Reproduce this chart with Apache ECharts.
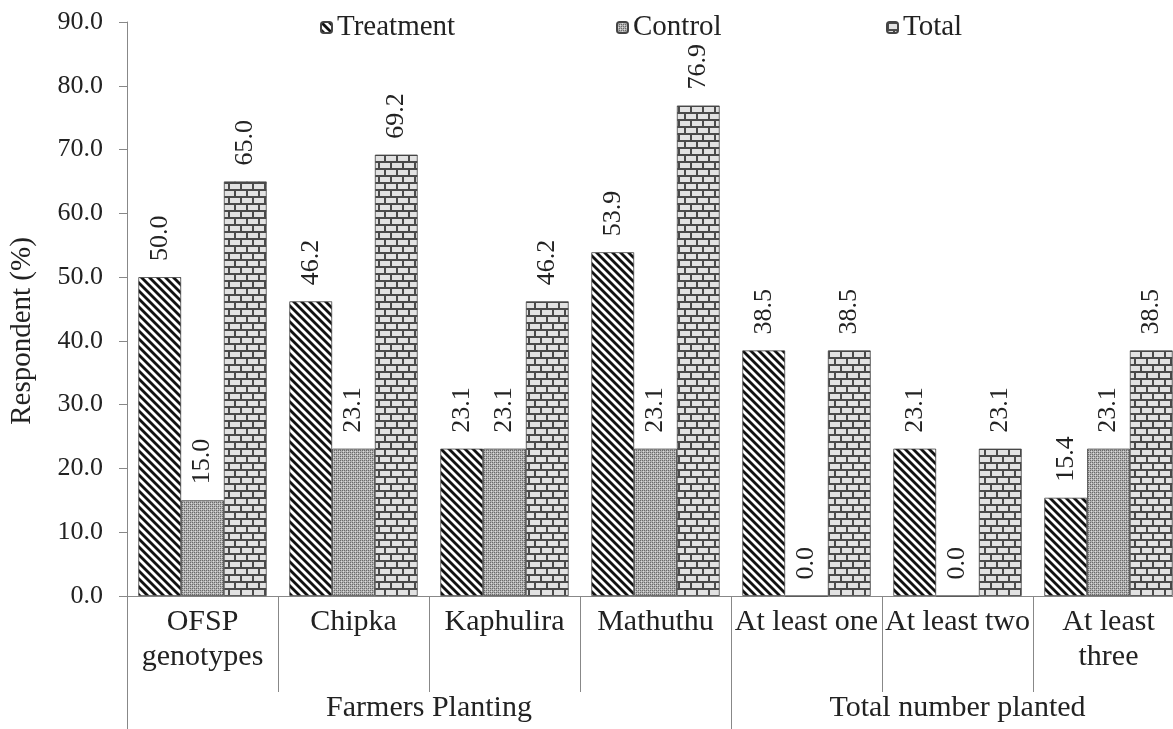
<!DOCTYPE html>
<html><head><meta charset="utf-8">
<script src="https://cdn.jsdelivr.net/npm/echarts@6/dist/echarts.min.js"></script>
<style>html,body{margin:0;padding:0;background:#fff}#c{width:1173px;height:729px}</style>
</head><body><div id="c"></div>
<script>
const categories = ['OFSP\ngenotypes','Chipka','Kaphulira','Mathuthu','At least one','At least two','At least\nthree'];
const groups = ['Farmers Planting','Total number planted'];
const treatment = [50.0, 46.2, 23.1, 53.9, 38.5, 23.1, 15.4];
const control   = [15.0, 23.1, 23.1, 23.1, 0.0, 0.0, 23.1];
const total     = [65.0, 69.2, 46.2, 76.9, 38.5, 23.1, 38.5];

function mk(w,h,draw){const c=document.createElement('canvas');c.width=w;c.height=h;const g=c.getContext('2d');draw(g);return c;}
const stripe = mk(8,8,g=>{g.fillStyle='#fff';g.fillRect(0,0,8,8);g.strokeStyle='#111';g.lineWidth=2.8;
  for(let k=-1;k<=1;k++){g.beginPath();g.moveTo(-2+k*8,-2);g.lineTo(10+k*8,10);g.stroke();}});
const checker = mk(4,4,g=>{g.fillStyle='#b0b0b0';g.fillRect(0,0,4,4);g.fillStyle='#6a6a6a';
  g.fillRect(0,0,1,1);g.fillRect(2,2,1,1);g.fillRect(2,0,1,1);g.fillRect(0,2,1,1);g.fillStyle='#dcdcdc';g.fillRect(1,1,1,1);g.fillRect(3,3,1,1);});
const brick = mk(12,14,g=>{g.fillStyle='#e2e2e2';g.fillRect(0,0,12,14);g.fillStyle='#4a4a4a';
  g.fillRect(0,0,12,2);g.fillRect(0,7,12,2);g.fillRect(0,0,2,7);g.fillRect(6,7,2,7);});

const font='Liberation Serif';
const lbl = {show:true, position:'top', rotate:90, align:'left', verticalAlign:'middle', distance:16,
  fontFamily:font, fontSize:26, color:'#222', formatter:p=>p.value.toFixed(1)};
function ser(name,data,img){return {name,type:'bar',data,barGap:0,barCategoryGap:'15%',
  itemStyle:{color:{image:img,repeat:'repeat'},borderColor:'#444',borderWidth:0.8},label:lbl,emphasis:{disabled:true}};}

const legendBase = {top:8, itemWidth:11, itemHeight:11, itemGap:4, textStyle:{fontFamily:font,fontSize:29,color:'#222'}, selectedMode:false};
const chart = echarts.init(document.getElementById('c'));
chart.setOption({
  animation:false,
  backgroundColor:'#fff',
  grid:{left:127,width:1057,top:22,bottom:133,outerBoundsMode:'none',containLabel:false},
  legend:[Object.assign({left:315,data:['Treatment']},legendBase),
          Object.assign({left:611,data:['Control']},legendBase),
          Object.assign({left:881,data:['Total']},legendBase)],
  xAxis:[{type:'category',data:categories,
      axisLine:{show:true,lineStyle:{color:'#888'}},
      axisTick:{show:true,interval:0,alignWithLabel:false,length:96,lineStyle:{color:'#888'}},
      axisLabel:{show:true,interval:0,margin:9,fontFamily:font,fontSize:30,lineHeight:35,color:'#222',hideOverlap:false,verticalAlign:'top'}},
    {type:'value',min:0,max:7,position:'bottom',
      axisLine:{show:false},splitLine:{show:false},
      axisTick:{show:true,customValues:[0,4,7],length:133,lineStyle:{color:'#888'}},
      axisLabel:{show:true,customValues:[2,5.5],margin:97,fontFamily:font,fontSize:30,color:'#222',
        formatter:v=>v===2?groups[0]:(v===5.5?groups[1]:'')}}],
  yAxis:{type:'value',min:0,max:90,interval:10,
    name:'Respondent (%)',nameLocation:'middle',nameGap:90,
    nameTextStyle:{fontFamily:font,fontSize:29,color:'#222',padding:[0,44,0,0]},
    axisLine:{show:true,lineStyle:{color:'#888'}},axisTick:{show:true,length:8,lineStyle:{color:'#888'}},
    splitLine:{show:false},
    axisLabel:{margin:24,fontFamily:font,fontSize:26,color:'#222',formatter:v=>v.toFixed(1)}},
  series:[ser('Treatment',treatment,stripe),ser('Control',control,checker),ser('Total',total,brick)]
});
</script></body></html>
